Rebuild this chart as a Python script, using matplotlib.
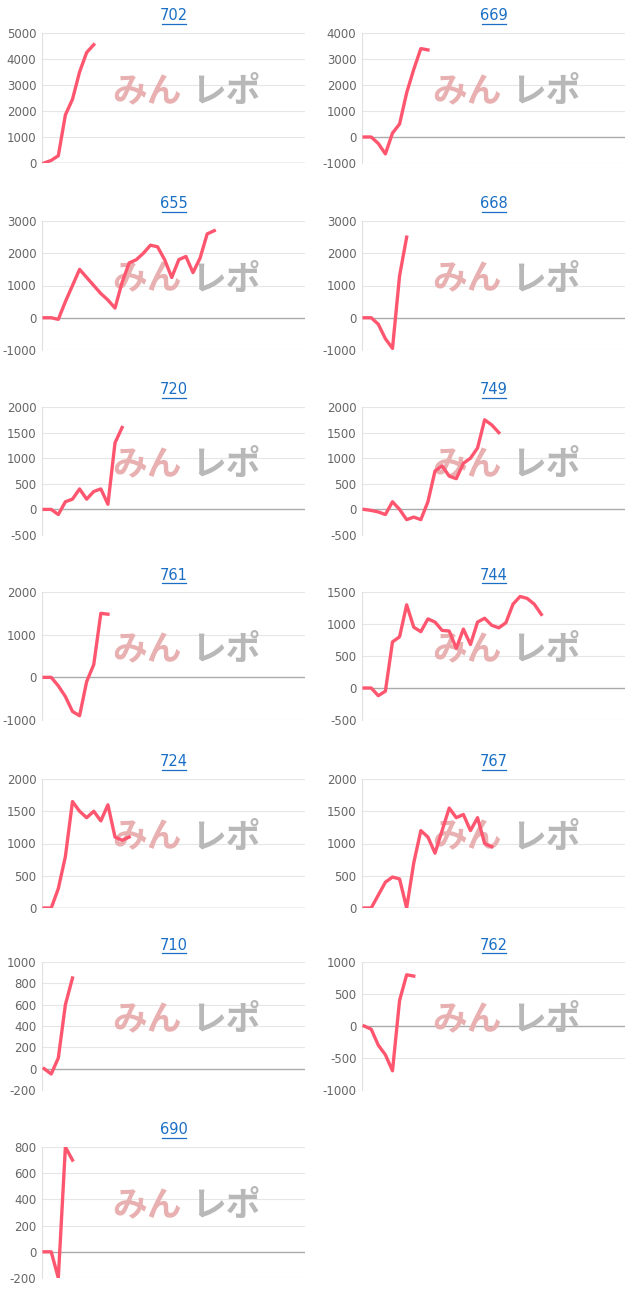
import matplotlib
matplotlib.use("Agg")
import matplotlib.pyplot as plt
from matplotlib.lines import Line2D

plt.rcParams["axes.unicode_minus"] = False

titles = ["702","669","655","668","720","749","761","744","724","767","710","762","690"]
s702 = [0,100,280,1850,2450,3500,4250,4550]
s669 = [0,0,-250,-650,150,500,1700,2600,3400,3350]
s655 = [0,0,-50,500,1000,1500,1250,1000,750,550,300,1100,1700,1800,2000,2250,2200,1800,1250,1800,1900,1400,1850,2600,2700]
s668 = [0,0,-200,-650,-950,1300,2500]
s720 = [0,0,-100,150,200,400,200,350,400,100,1300,1600]
s749 = [0,-20,-50,-100,150,0,-200,-150,-200,150,750,850,650,600,900,1000,1200,1750,1650,1500]
s761 = [0,0,-200,-450,-800,-900,-100,300,1500,1480]
s744 = [0,0,-120,-50,720,800,1300,950,880,1080,1030,900,890,620,920,680,1030,1090,980,940,1020,1310,1430,1400,1310,1150]
s724 = [0,0,300,800,1650,1500,1400,1500,1350,1600,1100,1050,1100]
s767 = [0,0,200,400,480,450,0,700,1200,1100,850,1200,1550,1400,1450,1200,1400,1000,950]
s710 = [0,-50,100,600,850]
s762 = [0,-50,-300,-450,-700,400,800,780]
s690 = [0,0,-200,800,700]
series = [s702,s669,s655,s668,s720,s749,s761,s744,s724,s767,s710,s762,s690]
yticks = [
    list(range(0,5001,1000)), list(range(-1000,4001,1000)),
    list(range(-1000,3001,1000)), list(range(-1000,3001,1000)),
    list(range(-500,2001,500)), list(range(-500,2001,500)),
    list(range(-1000,2001,1000)), list(range(-500,1501,500)),
    list(range(0,2001,500)), list(range(0,2001,500)),
    list(range(-200,1001,200)), list(range(-1000,1001,500)),
    list(range(-200,801,200)),
]

W, H = 640, 1303
fig = plt.figure(figsize=(W/100, H/100), dpi=100)
row_tops = [33, 221, 407, 592, 779, 962, 1147]
row_bots = [163, 350, 535, 720, 908, 1090, 1278]
col_left = [42, 362]
aw = 263

for i, (t, s, yt) in enumerate(zip(titles, series, yticks)):
    r, c = divmod(i, 2)
    top, bot = row_tops[r], row_bots[r]
    ax = fig.add_axes([col_left[c]/W, 1-bot/H, aw/W, (bot-top)/H])
    ax.plot(range(len(s)), s, color="#ff5670", lw=2.4, solid_joinstyle="round", zorder=3)
    ax.set_xlim(-0.3, 36.8)
    ax.set_ylim(yt[0], yt[-1])
    ax.set_yticks(yt)
    ax.set_xticks([])
    ax.tick_params(axis="y", length=0, labelsize=8.5, labelcolor="#666666", pad=4)
    for y in yt:
        ax.axhline(y, color="#aaaaaa" if y == 0 else "#e6e6e6", lw=1.0 if y == 0 else 0.8, zorder=1)
    for sp in ["top", "right", "bottom"]:
        ax.spines[sp].set_visible(False)
    ax.spines["left"].set_color("#e0e0e0")
    ax.text(0.40, 0.55, "みん", transform=ax.transAxes, fontsize=25, color="#e8b0b0",
            family=["Noto Sans CJK JP"], weight="bold", ha="center", va="center", zorder=2)
    ax.text(0.70, 0.55, "レポ", transform=ax.transAxes, fontsize=25, color="#b8b8b8",
            family=["Noto Sans CJK JP"], weight="bold", ha="center", va="center", zorder=2)
    cx = (col_left[c] + aw/2) / W
    ty = 1 - (top - 17)/H
    fig.text(cx, ty, t, ha="center", va="center", fontsize=10.5, color="#1a6fc4")
    uy = 1 - (top - 9)/H
    fig.add_artist(Line2D([cx-12/W, cx+12/W], [uy, uy], color="#1a6fc4", lw=0.9))

fig.savefig("out.png", dpi=100)
